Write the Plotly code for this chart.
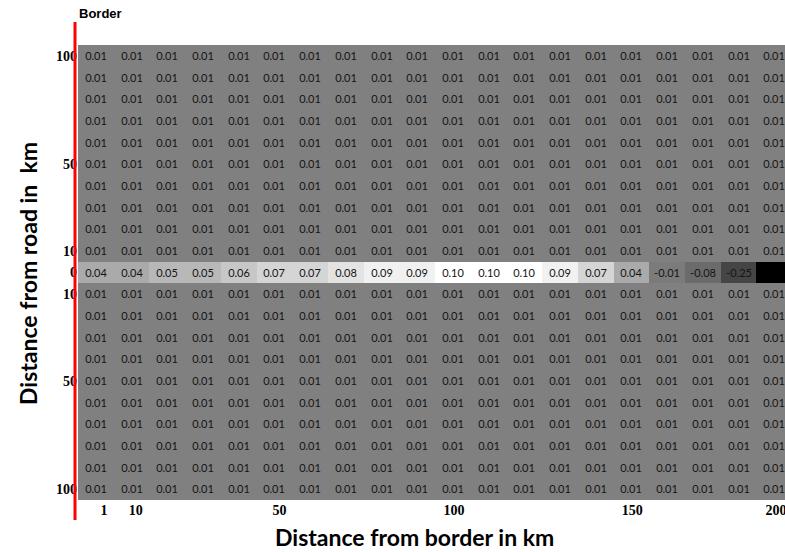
import plotly.graph_objects as go

# ---- data ----
border_km_cols = list(range(20))  # 20 columns, each a step along the border distance
x_tick_positions = [0.23, 1.12, 5.14, 10.03, 15.02, 19.05]
x_tick_labels = ["1", "10", "50", "100", "150", "200"]

road_rows = list(range(21))  # 10 rows above the road, the road row, 10 rows below
y_tick_positions = [0, 5, 9, 10, 11, 15, 20]
y_tick_labels = ["100", "50", "10", "0", "10", "50", "100"]

off_road_row = [0.01, 0.01, 0.01, 0.01, 0.01, 0.01, 0.01, 0.01, 0.01, 0.01,
                0.01, 0.01, 0.01, 0.01, 0.01, 0.01, 0.01, 0.01, 0.01, 0.01]
road_row = [0.04, 0.04, 0.05, 0.05, 0.06, 0.07, 0.07, 0.08, 0.09, 0.09,
            0.10, 0.10, 0.10, 0.09, 0.07, 0.04, -0.01, -0.08, -0.25, -0.55]
road_row_index = 10

z = []
for r in road_rows:
    z.append(list(road_row) if r == road_row_index else list(off_road_row))

zmin = min(road_row)
zmax = max(road_row)
mid = 0.01
mid_pos = (mid - zmin) / (zmax - zmin)
colorscale = [[0.0, "rgb(0,0,0)"], [mid_pos, "rgb(128,128,128)"], [1.0, "rgb(255,255,255)"]]

# the darkest (black) cell shows no readable label in the reference
cell_text = [["" if v <= zmin else f"{v:.2f}" for v in row] for row in z]

fig = go.Figure(go.Heatmap(
    x=border_km_cols, y=road_rows, z=z,
    zmin=zmin, zmax=zmax, colorscale=colorscale, showscale=False,
    text=cell_text, texttemplate="%{text}",
    textfont=dict(family="Lato", size=11, color="#141414"),
    hoverinfo="skip",
))

W, H = 785, 552
left, top, bottom = 78, 45, 52
pw = W - left
ph = H - top - bottom

def px_x(p):
    return (p - left) / pw

def px_y(p):
    return (H - bottom - p) / ph

tick_font = dict(family="Liberation Serif", size=14, color="black", weight="bold")

fig.update_layout(
    width=W, height=H,
    margin=dict(l=left, r=0, t=top, b=bottom, autoexpand=False),
    paper_bgcolor="white", plot_bgcolor="white",
    xaxis=dict(range=[-0.5, 19.3], tickmode="array", tickvals=x_tick_positions,
               ticktext=x_tick_labels, showgrid=False, zeroline=False, ticks="",
               showline=False, automargin=False, ticklabelstandoff=0,
               ticklabeloverflow="allow", tickfont=tick_font),
    yaxis=dict(range=[20.5, -0.5], tickmode="array", tickvals=y_tick_positions,
               ticktext=y_tick_labels, showgrid=False, zeroline=False, ticks="",
               showline=False, automargin=False, ticklabelstandoff=0,
               ticklabeloverflow="allow", tickfont=tick_font),
    shapes=[dict(type="line", xref="paper", yref="paper",
                 x0=px_x(75), x1=px_x(75), y0=px_y(22), y1=px_y(520),
                 line=dict(color="red", width=3))],
    annotations=[
        dict(text="<b>Distance from border in km</b>", xref="paper", yref="paper",
             x=px_x(414), y=px_y(537), xanchor="center", yanchor="middle",
             showarrow=False, font=dict(family="Lato", size=23, color="black")),
        dict(text="<b>Distance from road in  km</b>", xref="paper", yref="paper",
             x=px_x(28), y=px_y(274), xanchor="center", yanchor="middle",
             textangle=-90, showarrow=False,
             font=dict(family="Lato", size=23, color="black")),
        dict(text="<b>Border</b>", xref="paper", yref="paper",
             x=px_x(100), y=px_y(13), xanchor="center", yanchor="middle",
             showarrow=False, font=dict(family="Liberation Sans", size=13, color="black")),
    ],
)

fig.write_html("out.html", config={"displayModeBar": False},
               post_script="document.body.style.margin='0';document.body.style.overflow='hidden';")
